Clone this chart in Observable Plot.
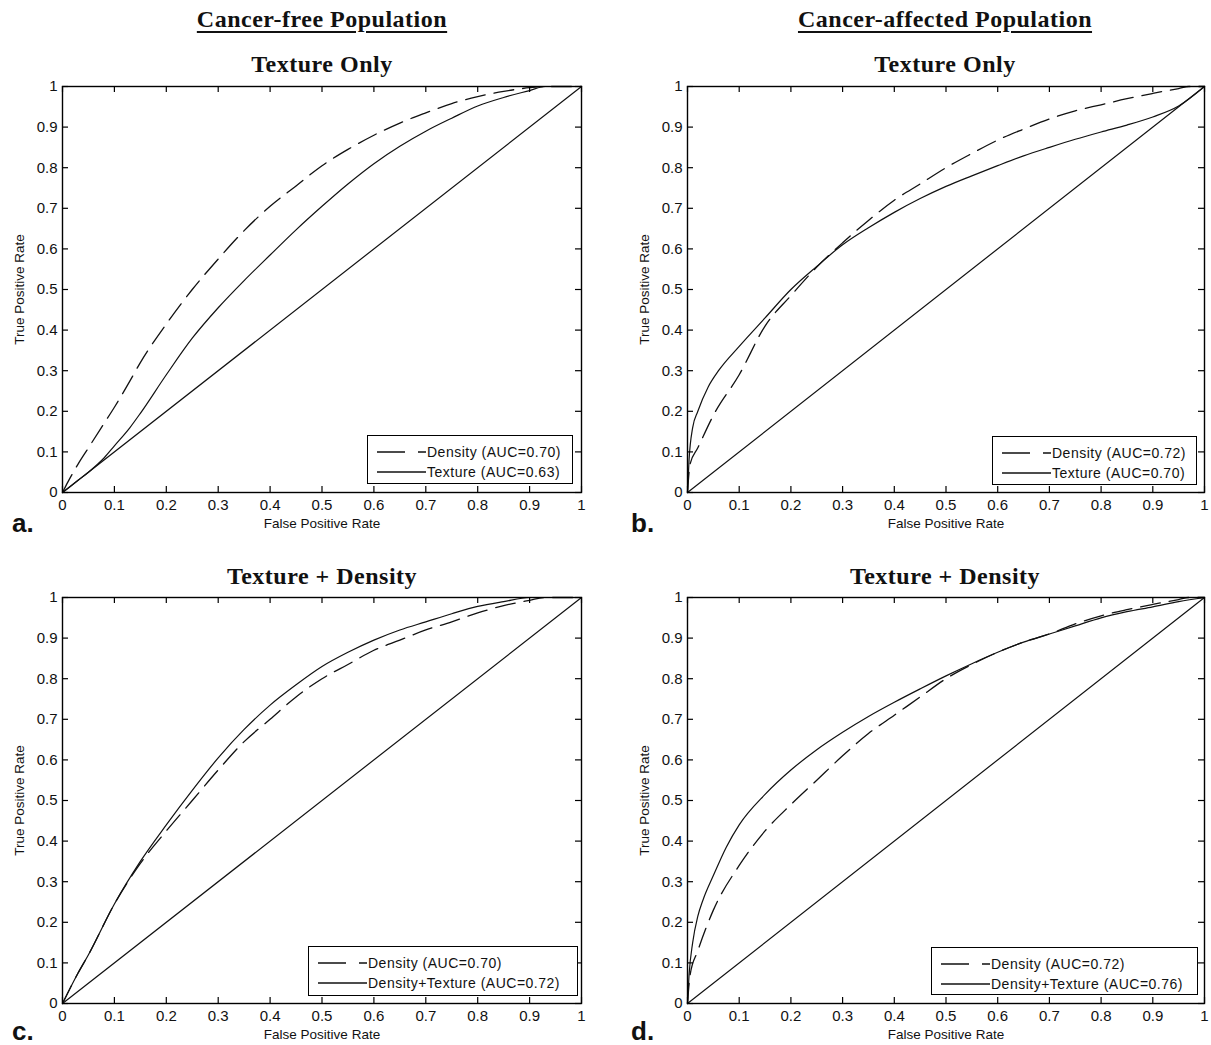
<!DOCTYPE html>
<html>
<head>
<meta charset="utf-8">
<script src="https://cdn.jsdelivr.net/npm/d3@7"></script>
<script src="https://cdn.jsdelivr.net/npm/@observablehq/plot@0.6"></script>
<style>
  body { margin: 0; background: #fff; }
  #root { position: relative; width: 1211px; height: 1045px; overflow: hidden; background: #fff;
          font-family: "Liberation Sans", Arial, sans-serif; color: #111; }
  .abs { position: absolute; white-space: nowrap; }
  .ttl { font-family: "Liberation Serif", "Times New Roman", serif; font-weight: bold; font-size: 24px;
         line-height: 24px; letter-spacing: 0.5px; text-align: center; width: 520px; }
  .col { text-decoration: underline; text-decoration-thickness: 2px; text-underline-offset: 4px; }
  .letter { font-family: "Liberation Sans", Arial, sans-serif; font-weight: bold; font-size: 26px; line-height: 20px; }
  .legend { position: absolute; box-sizing: border-box; background: #fff; border: 1.4px solid #000;
            padding: 6px 0 0 9px; font-size: 14px; letter-spacing: 0.5px; }
  .legend .row { height: 20px; line-height: 20px; display: flex; align-items: center; }
  .legend svg { flex: none; margin-right: 1px; }
</style>
</head>
<body>
<div id="root"></div>
<script>
// ---------------- data ----------------
const tickValues = [0, 0.1, 0.2, 0.3, 0.4, 0.5, 0.6, 0.7, 0.8, 0.9, 1];
const chanceLine = [[0, 0], [1, 1]];

const columnTitles = ["Cancer-free Population", "Cancer-affected Population"];
const rowTitles = ["Texture Only", "Texture + Density"];
const panelLetters = ["a.", "b.", "c.", "d."];
const xAxisLabel = "False Positive Rate";
const yAxisLabel = "True Positive Rate";

// Panel a: cancer-free, texture only  [FPR, TPR]
const freeDensityA = [[0,0],[0.01,0.025],[0.03,0.07],[0.05,0.11],[0.08,0.17],[0.1,0.21],[0.13,0.275],[0.15,0.32],[0.2,0.415],[0.25,0.5],[0.3,0.575],[0.35,0.645],[0.4,0.705],[0.45,0.755],[0.5,0.805],[0.55,0.845],[0.6,0.88],[0.65,0.91],[0.7,0.935],[0.75,0.958],[0.8,0.975],[0.85,0.988],[0.9,0.997],[0.93,1],[1,1]];
const freeTextureA = [[0,0],[0.03,0.03],[0.05,0.05],[0.08,0.085],[0.1,0.115],[0.13,0.16],[0.15,0.195],[0.2,0.29],[0.25,0.38],[0.3,0.455],[0.35,0.522],[0.4,0.585],[0.45,0.647],[0.5,0.705],[0.55,0.76],[0.6,0.81],[0.65,0.853],[0.7,0.89],[0.75,0.922],[0.8,0.952],[0.85,0.973],[0.9,0.99],[0.93,1],[1,1]];
const legendA = ["Density (AUC=0.70)", "Texture (AUC=0.63)"];

// Panel b: cancer-affected, texture only
const affectedDensityB = [[0,0],[0.005,0.07],[0.02,0.11],[0.05,0.19],[0.1,0.29],[0.15,0.41],[0.2,0.485],[0.25,0.555],[0.3,0.615],[0.35,0.67],[0.4,0.72],[0.45,0.76],[0.5,0.8],[0.55,0.835],[0.6,0.868],[0.65,0.895],[0.7,0.92],[0.75,0.94],[0.8,0.955],[0.85,0.97],[0.9,0.983],[0.95,0.995],[0.97,1],[1,1]];
const affectedTextureB = [[0,0],[0.003,0.08],[0.01,0.16],[0.02,0.2],[0.04,0.26],[0.06,0.3],[0.1,0.36],[0.15,0.43],[0.2,0.5],[0.25,0.557],[0.3,0.61],[0.35,0.652],[0.4,0.69],[0.45,0.724],[0.5,0.754],[0.55,0.78],[0.6,0.805],[0.65,0.829],[0.7,0.85],[0.75,0.87],[0.8,0.888],[0.85,0.905],[0.9,0.925],[0.95,0.952],[1,1]];
const legendB = ["Density (AUC=0.72)", "Texture (AUC=0.70)"];

// Panel c: cancer-free, texture + density
const freeDensityC = [[0,0],[0.03,0.075],[0.05,0.12],[0.1,0.245],[0.15,0.345],[0.2,0.425],[0.25,0.5],[0.3,0.575],[0.35,0.645],[0.4,0.7],[0.45,0.755],[0.5,0.8],[0.55,0.835],[0.6,0.87],[0.65,0.895],[0.7,0.92],[0.75,0.94],[0.8,0.962],[0.85,0.98],[0.9,0.993],[0.93,1],[1,1]];
const freeCombinedC = [[0,0],[0.03,0.075],[0.05,0.12],[0.1,0.245],[0.15,0.35],[0.2,0.44],[0.25,0.525],[0.3,0.605],[0.35,0.675],[0.4,0.735],[0.45,0.785],[0.5,0.83],[0.55,0.865],[0.6,0.895],[0.65,0.92],[0.7,0.94],[0.75,0.96],[0.8,0.978],[0.85,0.99],[0.9,1],[1,1]];
const legendC = ["Density (AUC=0.70)", "Density+Texture (AUC=0.72)"];

// Panel d: cancer-affected, texture + density
const affectedDensityD = [[0,0],[0.005,0.07],[0.02,0.13],[0.05,0.23],[0.1,0.34],[0.15,0.425],[0.2,0.49],[0.25,0.55],[0.3,0.61],[0.35,0.665],[0.4,0.71],[0.45,0.755],[0.5,0.8],[0.55,0.835],[0.6,0.865],[0.65,0.89],[0.7,0.91],[0.75,0.935],[0.8,0.955],[0.85,0.97],[0.9,0.983],[0.95,0.995],[0.97,1],[1,1]];
const affectedCombinedD = [[0,0],[0.003,0.07],[0.01,0.15],[0.02,0.215],[0.03,0.255],[0.05,0.315],[0.075,0.385],[0.1,0.44],[0.15,0.515],[0.2,0.575],[0.25,0.625],[0.3,0.668],[0.35,0.707],[0.4,0.742],[0.45,0.775],[0.5,0.807],[0.55,0.837],[0.6,0.865],[0.65,0.89],[0.7,0.91],[0.75,0.93],[0.8,0.95],[0.85,0.965],[0.9,0.977],[0.95,0.99],[1,1]];
const legendD = ["Density (AUC=0.72)", "Density+Texture (AUC=0.76)"];

// ---------------- layout ----------------
const root = document.getElementById("root");
const INK = "#111";
const fmt = d3.format("~g");

const panels = [
  {dashed: freeDensityA, solid: freeTextureA, legend: legendA, box: {left: 0, top: 76, W: 600, H: 460, mL: 62, mR: 19, mT: 10, mB: 44}, leg: {x: 367, y: 435, w: 206, h: 49}, letter: {x: 12, y: 513}},
  {dashed: affectedDensityB, solid: affectedTextureB, legend: legendB, box: {left: 620, top: 76, W: 591, H: 460, mL: 67, mR: 7, mT: 10, mB: 44}, leg: {x: 992, y: 436, w: 205, h: 49}, letter: {x: 631, y: 513}},
  {dashed: freeDensityC, solid: freeCombinedC, legend: legendC, box: {left: 0, top: 587, W: 600, H: 458, mL: 62, mR: 19, mT: 10, mB: 42}, leg: {x: 308, y: 946, w: 270, h: 50}, letter: {x: 12, y: 1021}},
  {dashed: affectedDensityD, solid: affectedCombinedD, legend: legendD, box: {left: 620, top: 587, W: 591, H: 458, mL: 67, mR: 7, mT: 10, mB: 42}, leg: {x: 931, y: 947, w: 267, h: 48}, letter: {x: 631, y: 1021}}
];

function rocPanel(p) {
  const b = p.box;
  const innerW = b.W - b.mL - b.mR, innerH = b.H - b.mT - b.mB;
  const tl = 6;
  const chart = Plot.plot({
    width: b.W, height: b.H,
    marginLeft: b.mL, marginRight: b.mR, marginTop: b.mT, marginBottom: b.mB,
    x: {domain: [0, 1]},
    y: {domain: [0, 1]},
    style: {fontFamily: "'Liberation Sans', Arial, sans-serif", fontSize: "15px", color: INK, background: "transparent", overflow: "visible"},
    marks: [
      Plot.line(chanceLine, {x: d => d[0], y: d => d[1], stroke: INK, strokeWidth: 1.2}),
      Plot.line(p.solid, {x: d => d[0], y: d => d[1], stroke: INK, strokeWidth: 1.2, curve: "monotone-x"}),
      Plot.line(p.dashed, {x: d => d[0], y: d => d[1], stroke: INK, strokeWidth: 1.3, strokeDasharray: "20,9", curve: "monotone-x"}),
      Plot.tickX(tickValues, {x: d => d, insetTop: innerH - tl, stroke: "#000", strokeWidth: 1.2}),
      Plot.tickX(tickValues, {x: d => d, insetBottom: innerH - tl, stroke: "#000", strokeWidth: 1.2}),
      Plot.tickY(tickValues, {y: d => d, insetRight: innerW - tl, stroke: "#000", strokeWidth: 1.2}),
      Plot.tickY(tickValues, {y: d => d, insetLeft: innerW - tl, stroke: "#000", strokeWidth: 1.2}),
      Plot.frame({stroke: "#000", strokeWidth: 1.4}),
      Plot.axisX(tickValues, {tickSize: 0, tickPadding: 7, tickFormat: fmt, label: null, fontSize: 15}),
      Plot.axisY(tickValues, {tickSize: 0, tickPadding: 5, tickFormat: fmt, label: null, fontSize: 15}),
      Plot.text([xAxisLabel], {frameAnchor: "bottom", dy: 31, lineAnchor: "middle", textAnchor: "middle", fontSize: 13.5, fill: INK}),
      Plot.text([yAxisLabel], {frameAnchor: "left", dx: -43, rotate: -90, lineAnchor: "middle", textAnchor: "middle", fontSize: 13.5, fill: INK})
    ]
  });
  chart.style.position = "absolute";
  chart.style.left = b.left + "px";
  chart.style.top = b.top + "px";
  root.appendChild(chart);
}

function addDiv(text, cls, style) {
  const d = document.createElement("div");
  d.className = "abs " + cls;
  d.textContent = text;
  Object.assign(d.style, style);
  root.appendChild(d);
  return d;
}

function addLegend(p) {
  const L = p.leg;
  const d = document.createElement("div");
  d.className = "legend";
  Object.assign(d.style, {left: L.x + "px", top: L.y + "px", width: L.w + "px", height: L.h + "px"});
  p.legend.forEach((label, i) => {
    const row = document.createElement("div");
    row.className = "row";
    const dash = i === 0 ? ' stroke-dasharray="28,13"' : "";
    row.innerHTML = `<svg width="49" height="6"><line x1="0" y1="3" x2="49" y2="3" stroke="${INK}" stroke-width="1.3"${dash}/></svg>`;
    const span = document.createElement("span");
    span.textContent = label;
    row.appendChild(span);
    d.appendChild(row);
  });
  root.appendChild(d);
}

panels.forEach((p, i) => {
  rocPanel(p);
  addLegend(p);
  addDiv(panelLetters[i], "letter", {left: p.letter.x + "px", top: p.letter.y + "px"});
});

// column titles (underlined) and row titles
const colCenters = [322, 945];
columnTitles.forEach((t, j) => addDiv(t, "ttl col", {left: (colCenters[j] - 260) + "px", top: "7px"}));
colCenters.forEach(cx => {
  addDiv(rowTitles[0], "ttl", {left: (cx - 260) + "px", top: "52px"});
  addDiv(rowTitles[1], "ttl", {left: (cx - 260) + "px", top: "564px"});
});
</script>
</body>
</html>
